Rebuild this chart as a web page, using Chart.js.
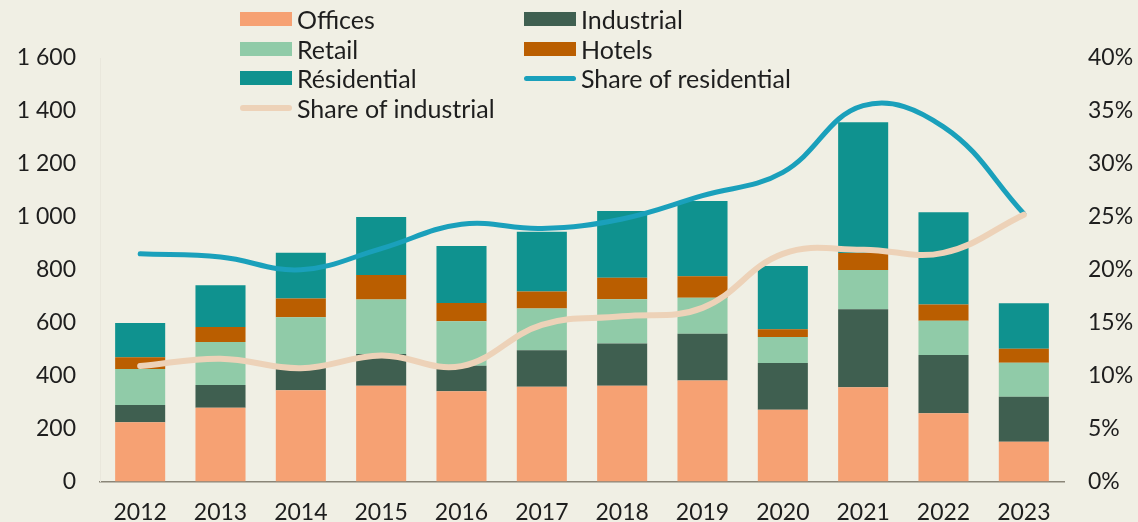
<!DOCTYPE html>
<html>
<head>
<meta charset="utf-8">
<script src="https://cdn.jsdelivr.net/npm/chart.js@4"></script>
<style>
  html, body { margin: 0; padding: 0; background: #f0efe4; }
  #wrap { position: relative; width: 1138px; height: 522px; }
  canvas { position: absolute; left: 0; top: 0; }
  .lg { position: absolute; font-family: Lato, "Open Sans", sans-serif; font-size: 25px; color: #1e1e1e; line-height: 30px; height: 30px; white-space: nowrap; }
  .sw { position: absolute; left: 0; width: 52px; height: 14px; top: 8px; }
  .ln { position: absolute; left: 0; width: 52px; border-radius: 3px; }
  .tx { position: absolute; left: 57px; top: 0; }
</style>
</head>
<body>
<div id="wrap">
  <canvas id="c" width="1138" height="522"></canvas>
  <div id="legend"></div>
</div>
<script>
const years = ['2012','2013','2014','2015','2016','2017','2018','2019','2020','2021','2022','2023'];
const offices     = [224, 279, 345, 362, 341, 358, 362, 382, 271, 356, 258, 150];
const industrial  = [ 65,  86,  88, 120,  96, 138, 159, 176, 177, 295, 220, 170];
const retail      = [136, 162, 188, 206, 168, 158, 168, 136,  98, 148, 129, 129];
const hotels      = [ 44,  57,  70,  92,  69,  64,  81,  81,  29,  64,  62,  53];
const residential = [130, 157, 173, 219, 216, 226, 252, 285, 239, 494, 348, 171];
const shareResidential = [21.5, 21.2, 20.0, 22.0, 24.3, 23.9, 24.8, 27.0, 29.2, 35.5, 33.5, 25.3];
const shareIndustrial  = [10.9, 11.6, 10.7, 11.9, 10.9, 14.8, 15.6, 16.4, 21.5, 21.9, 21.6, 25.2];
const leftTicks  = [0, 200, 400, 600, 800, 1000, 1200, 1400, 1600];
const rightTicks = [0, 5, 10, 15, 20, 25, 30, 35, 40];

const C = {
  offices: '#f6a173', industrial: '#3f5f50', retail: '#90cba8', hotels: '#ba5e00',
  residential: '#0f928f', shareRes: '#1aa0bb', shareInd: '#edd2b8', text: '#1e1e1e'
};
const FONT = 'Lato, "Open Sans", sans-serif';

function fmtThousands(v) {
  return String(v).replace(/\B(?=(\d{3})+(?!\d))/g, ' ');
}

const bar = (label, data, color) => ({
  type: 'bar', label, data, backgroundColor: color, borderWidth: 0,
  yAxisID: 'y', order: 2, barPercentage: 0.623, categoryPercentage: 1.0
});

new Chart(document.getElementById('c'), {
  data: {
    labels: years,
    datasets: [
      bar('Offices', offices, C.offices),
      bar('Industrial', industrial, C.industrial),
      bar('Retail', retail, C.retail),
      bar('Hotels', hotels, C.hotels),
      bar('Résidential', residential, C.residential),
      { type: 'line', label: 'Share of residential', data: shareResidential, yAxisID: 'y1',
        borderColor: C.shareRes, borderWidth: 5, tension: 0.4, pointRadius: 0,
        borderCapStyle: 'round', borderJoinStyle: 'round', order: 1, fill: false },
      { type: 'line', label: 'Share of industrial', data: shareIndustrial, yAxisID: 'y1',
        borderColor: C.shareInd, borderWidth: 6, tension: 0.4, pointRadius: 0,
        borderCapStyle: 'round', borderJoinStyle: 'round', order: 0, fill: false }
    ]
  },
  options: {
    responsive: false,
    animation: false,
    layout: { padding: { top: 58, bottom: 0, left: 0, right: 0 } },
    plugins: { legend: { display: false }, tooltip: { enabled: false } },
    scales: {
      x: {
        stacked: true,
        grid: { display: false, drawTicks: false },
        border: { display: true, color: '#8a8678', width: 1.5 },
        ticks: { color: C.text, font: { family: FONT, size: 23 }, padding: 17, maxRotation: 0 },
        afterFit(s) { s.height = 40.5; }
      },
      y: {
        stacked: true, position: 'left', min: 0, max: 1600,
        afterBuildTicks(s) { s.ticks = leftTicks.map(v => ({ value: v })); },
        grid: { display: false, drawTicks: false },
        border: { display: true, color: '#e9e7dc', width: 1 },
        ticks: { color: C.text, font: { family: FONT, size: 23 }, padding: 24,
                 callback: v => fmtThousands(v) },
        afterFit(s) { s.width = 100; }
      },
      y1: {
        stacked: false, position: 'right', min: 0, max: 40,
        afterBuildTicks(s) { s.ticks = rightTicks.map(v => ({ value: v })); },
        grid: { display: false, drawTicks: false },
        border: { display: false },
        ticks: { color: C.text, font: { family: FONT, size: 23 }, padding: 24,
                 callback: v => v + '%' },
        afterFit(s) { s.width = 74; }
      }
    }
  }
});

// Legend (HTML overlay, two columns)
const legendItems = [
  { label: 'Offices', color: C.offices, kind: 'box', col: 0, row: 0 },
  { label: 'Industrial', color: C.industrial, kind: 'box', col: 1, row: 0 },
  { label: 'Retail', color: C.retail, kind: 'box', col: 0, row: 1 },
  { label: 'Hotels', color: C.hotels, kind: 'box', col: 1, row: 1 },
  { label: 'Résidential', color: C.residential, kind: 'box', col: 0, row: 2 },
  { label: 'Share of residential', color: C.shareRes, kind: 'line', w: 5, col: 1, row: 2 },
  { label: 'Share of industrial', color: C.shareInd, kind: 'line', w: 6, col: 0, row: 3 }
];
const lg = document.getElementById('legend');
const colX = [240, 524], rowY = [4, 34, 63, 93];
legendItems.forEach(it => {
  const d = document.createElement('div');
  d.className = 'lg';
  d.style.left = colX[it.col] + 'px';
  d.style.top = rowY[it.row] + 'px';
  const s = document.createElement('div');
  if (it.kind === 'box') { s.className = 'sw'; }
  else { s.className = 'ln'; s.style.height = it.w + 'px'; s.style.top = (15 - it.w / 2) + 'px'; }
  s.style.background = it.color;
  const t = document.createElement('span');
  t.className = 'tx'; t.textContent = it.label;
  d.appendChild(s); d.appendChild(t);
  lg.appendChild(d);
});
</script>
</body>
</html>
